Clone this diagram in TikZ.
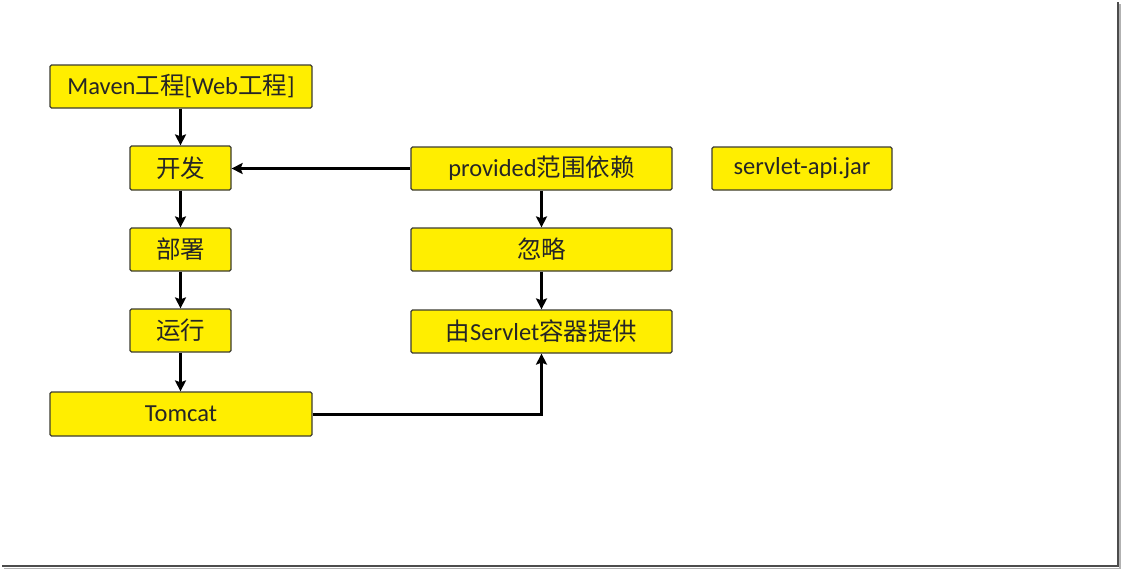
\documentclass[tikz,border=0pt]{standalone}
\usepackage{fontspec}
\setmainfont{Carlito}
\newfontfamily\cjk{Noto Sans CJK SC}
\usetikzlibrary{arrows.meta}
\definecolor{boxyellow}{RGB}{255,238,0}
\definecolor{boxedge}{RGB}{60,60,50}
\begin{document}
\begin{tikzpicture}[x=1pt,y=-1pt,
  box/.style={draw=boxedge, line width=1.2pt, fill=boxyellow, rounded corners=1.5pt,
    inner sep=0pt, font=\fontsize{24.5}{28}\selectfont, text=black!85},
  flow/.style={draw=black, line width=3pt, -{Stealth[length=11pt,width=11pt,inset=2pt]}}]
\useasboundingbox (0,0) rectangle (1121,570);
\fill[white] (0,0) rectangle (1121,570);
% frame shadow
\draw[gray!60, line width=1.5pt] (1120,4) -- (1120,568.5) -- (4,568.5);
\draw[black!70, line width=1.6pt] (1117.8,2) -- (1117.8,566) -- (2,566);

\node[box, minimum width=262pt, minimum height=43pt] (maven) at (181,86.5) {Maven{\cjk 工程}[Web{\cjk 工程}]};
\node[box, minimum width=101pt, minimum height=44pt] (dev) at (180.5,168) {\cjk 开发};
\node[box, minimum width=101pt, minimum height=43pt] (deploy) at (180.5,249.5) {\cjk 部署};
\node[box, minimum width=101pt, minimum height=43pt] (run) at (180.5,330.5) {\cjk 运行};
\node[box, minimum width=262pt, minimum height=44pt] (tomcat) at (181,414) {Tomcat};
\node[box, minimum width=261pt, minimum height=43pt] (prov) at (541.5,168.5) {provided{\cjk 范围依赖}};
\node[box, minimum width=261pt, minimum height=43pt] (ignore) at (541.5,249.5) {\cjk 忽略};
\node[box, minimum width=261pt, minimum height=43pt] (cont) at (541.5,331.5) {{\cjk 由}Servlet{\cjk 容器提供}};
\node[box, minimum width=180pt, minimum height=43pt] (jar) at (802,168.5) {servlet-api.jar};

\draw[flow] (maven.south -| dev.north) -- (dev.north);
\draw[flow] (dev) -- (deploy);
\draw[flow] (deploy) -- (run);
\draw[flow] (run) -- (tomcat.north -| run.south);
\draw[flow] (prov.west) -- (prov.west -| dev.east);
\draw[flow] (prov) -- (ignore);
\draw[flow] (ignore) -- (cont);
\draw[flow] (tomcat.east) -| (cont.south);
\end{tikzpicture}
\end{document}
